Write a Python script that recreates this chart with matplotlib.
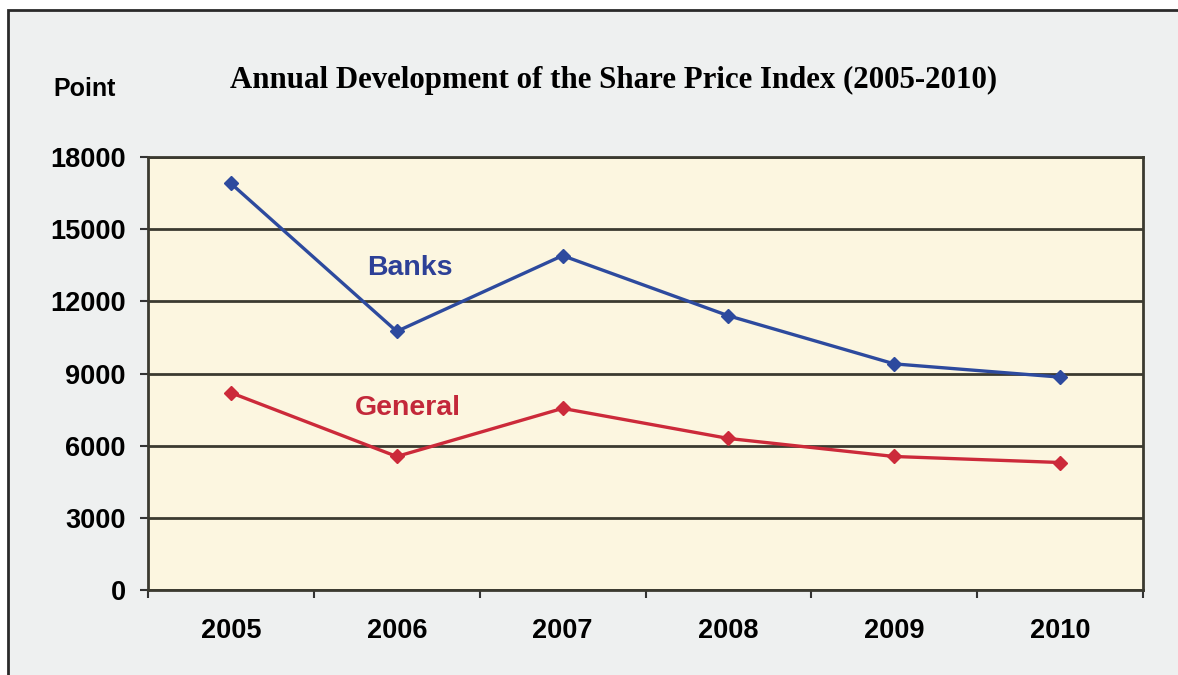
import matplotlib.pyplot as plt
from matplotlib.patches import Rectangle

years = ["2005", "2006", "2007", "2008", "2009", "2010"]
banks = [16900, 10750, 13900, 11400, 9400, 8850]
general = [8200, 5550, 7550, 6300, 5550, 5300]
yticks = [0, 3000, 6000, 9000, 12000, 15000, 18000]

fig = plt.figure(figsize=(11.78, 6.75), dpi=100)
fig.patch.set_facecolor("white")

# grey panel with a dark frame on the top and left
fig.patches.append(Rectangle((8 / 1178, -0.05), 1.0, 1.05 - 10 / 675, transform=fig.transFigure,
                             facecolor="#eef0f0", edgecolor="#2a2a2a", linewidth=2, zorder=-5))

ax = fig.add_axes([148 / 1178, 1 - 590 / 675, 995 / 1178, 433 / 675])
ax.set_facecolor("#fcf6e0")

x = [i + 0.5 for i in range(len(years))]
ax.plot(x, banks, color="#2d4a9e", lw=2.4, marker="D", ms=7, zorder=3)
ax.plot(x, general, color="#cc2a3a", lw=2.4, marker="D", ms=7, zorder=3)

ax.set_xlim(0, 6)
ax.set_ylim(0, 18000)
ax.set_yticks(yticks)
ax.set_yticklabels([str(v) for v in yticks], fontsize=19.5, fontweight="bold",
                   family="Liberation Sans")
ax.set_xticks(range(7))
ax.set_xticklabels([])
ax.set_xticks(x, minor=True)
ax.set_xticklabels(years, minor=True, fontsize=19.5, fontweight="bold",
                   family="Liberation Sans")
ax.tick_params(axis="x", which="minor", length=0, pad=20)
ax.tick_params(axis="x", which="major", length=6, width=1.5, color="#333333")
ax.tick_params(axis="y", length=6, width=1.5, color="#333333", pad=10)

ax.grid(axis="y", color="#3b3a30", lw=2)
ax.set_axisbelow(True)
for s in ax.spines.values():
    s.set_color("#3b3a30")
    s.set_linewidth(2)

ax.text(1.58, 13400, "Banks", color="#2d4097", fontsize=20.5, fontweight="bold",
        family="Liberation Sans", ha="center", va="center")
ax.text(1.57, 7550, "General", color="#c3283a", fontsize=20.5, fontweight="bold",
        family="Liberation Sans", ha="center", va="center")

fig.text(614 / 1178, 1 - 80 / 675, "Annual Development of the Share Price Index (2005-2010)",
         fontsize=22.2, fontweight="bold", family="Liberation Serif", ha="center", va="center")
fig.text(85 / 1178, 1 - 89 / 675, "Point", fontsize=18, fontweight="bold",
         family="Liberation Sans", ha="center", va="center")

fig.savefig("out.png", dpi=100, facecolor=fig.get_facecolor())
